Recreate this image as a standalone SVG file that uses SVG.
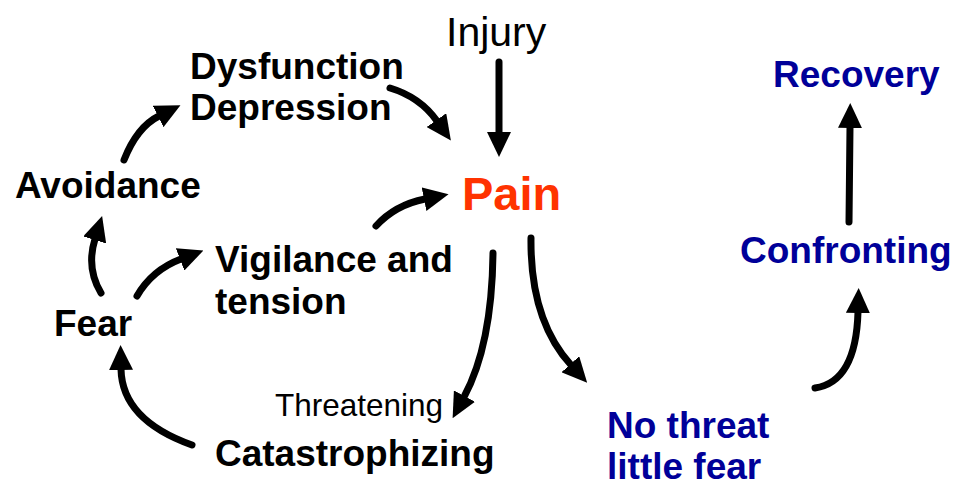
<svg xmlns="http://www.w3.org/2000/svg" width="956" height="487" viewBox="0 0 956 487">
<style>
.b{font-family:"Liberation Sans",Arial,sans-serif;font-weight:bold;font-size:37px;fill:#000}
.r{font-family:"Liberation Sans",Arial,sans-serif;fill:#000}
.blue{fill:#000099}
.pain{fill:#FF3300;font-size:47px}
.arr{fill:none;stroke:#000;stroke-width:7;stroke-linecap:round;marker-end:url(#ah)}
</style>
<defs>
<marker id="ah" viewBox="0 0 25 24" refX="1" refY="12" markerWidth="25" markerHeight="24" markerUnits="userSpaceOnUse" orient="auto">
<path d="M0,0 L25,12 L0,24 Z" fill="#000"/>
</marker>
</defs>
<rect width="956" height="487" fill="#fff"/>
<g id="connectors">
<path class="arr" d="M499,62 L499,133"/>
<path class="arr" d="M390,88 Q420,97 437,121"/>
<path class="arr" d="M124,160 Q137,127 159,116"/>
<path class="arr" d="M101,293 Q86,268 95,239"/>
<path class="arr" d="M137,296 Q152,270 181,259"/>
<path class="arr" d="M376,226 Q395,205 425,199"/>
<path class="arr" d="M192,445 Q122,420 121,369"/>
<path class="arr" d="M493,253 Q492,345 464,397"/>
<path class="arr" d="M531,238 Q530,320 571,365"/>
<path class="arr" d="M815,388 Q856,382 858,312"/>
<path class="arr" d="M849,222 L850,127"/>
</g>
<g id="injury"><text class="r" x="446" y="46" font-size="41">Injury</text></g>
<g id="pain"><text class="b pain" x="462" y="210">Pain</text></g>
<g id="dysfunction"><text class="b" x="190" y="79">Dysfunction</text><text class="b" x="190" y="120">Depression</text></g>
<g id="avoidance"><text class="b" x="15" y="198">Avoidance</text></g>
<g id="vigilance"><text class="b" x="215" y="272">Vigilance and</text><text class="b" x="215" y="314">tension</text></g>
<g id="fear"><text class="b" x="54" y="336">Fear</text></g>
<g id="threatening"><text class="r" x="275" y="416" font-size="31.5">Threatening</text></g>
<g id="catastrophizing"><text class="b" x="215" y="466" font-size="37.6">Catastrophizing</text></g>
<g id="recovery"><text class="b blue" x="773" y="87">Recovery</text></g>
<g id="confronting"><text class="b blue" x="740" y="263">Confronting</text></g>
<g id="nothreat"><text class="b blue" x="607" y="438">No threat</text><text class="b blue" x="607" y="479">little fear</text></g>
</svg>
